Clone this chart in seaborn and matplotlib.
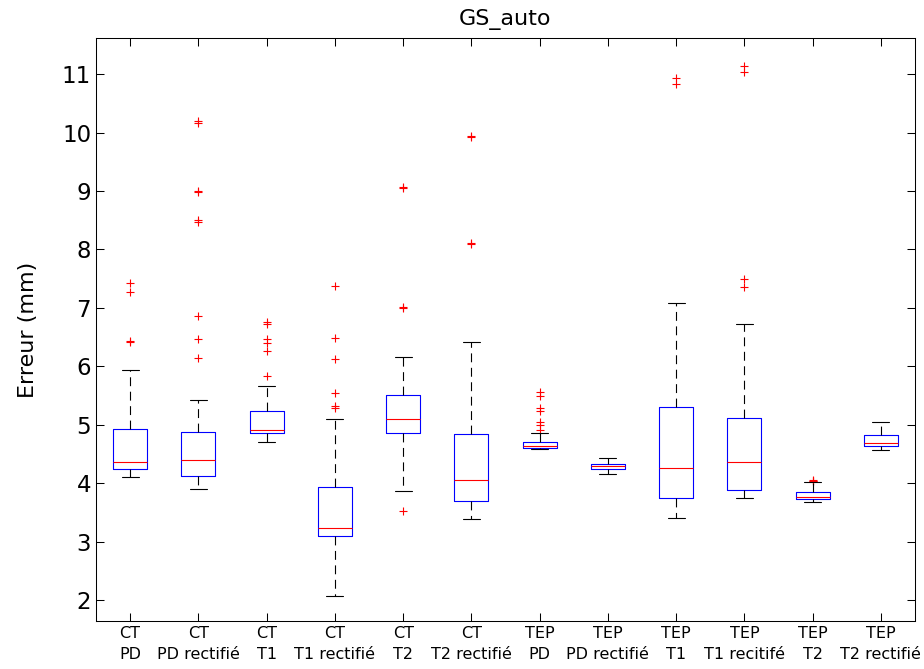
import numpy as np
import pandas as pd
import matplotlib
matplotlib.use("Agg")
import matplotlib.pyplot as plt
import seaborn as sns

# Box statistics (mm)
labels = ["CT\nPD", "CT\nPD rectifié", "CT\nT1", "CT\nT1 rectifié", "CT\nT2", "CT\nT2 rectifié",
          "TEP\nPD", "TEP\nPD rectifié", "TEP\nT1", "TEP\nT1 recitifé", "TEP\nT2", "TEP\nT2 rectifié"]
whislo = [4.10, 3.90, 4.70, 2.07, 3.87, 3.39, 4.59, 4.16, 3.40, 3.74, 3.68, 4.57]
q1 = [4.24, 4.13, 4.86, 3.09, 4.85, 3.69, 4.60, 4.24, 3.74, 3.88, 3.72, 4.64]
med = [4.36, 4.39, 4.91, 3.23, 5.10, 4.05, 4.63, 4.30, 4.26, 4.36, 3.77, 4.69]
q3 = [4.93, 4.87, 5.23, 3.93, 5.51, 4.84, 4.71, 4.33, 5.30, 5.11, 3.84, 4.82]
whishi = [5.94, 5.42, 5.66, 5.10, 6.16, 6.42, 4.86, 4.43, 7.08, 6.72, 4.02, 5.05]
fliers = [
    [7.43, 7.27, 6.44, 6.42],
    [10.20, 10.17, 9.00, 8.98, 8.50, 8.47, 6.86, 6.46, 6.14],
    [6.76, 6.73, 6.47, 6.40, 6.27, 5.83],
    [7.37, 6.49, 6.13, 5.54, 5.32, 5.29],
    [9.07, 9.05, 7.01, 6.99, 3.52],
    [9.95, 9.92, 8.11, 8.09],
    [5.56, 5.50, 5.29, 5.24, 5.04, 5.00, 4.91],
    [],
    [10.94, 10.84],
    [11.14, 11.04, 7.50, 7.35],
    [4.06, 4.04, 4.03],
    [],
]

sns.set_style("ticks", {"axes.edgecolor": "black", "text.color": "black",
                        "axes.labelcolor": "black", "xtick.color": "black",
                        "ytick.color": "black", "xtick.direction": "in",
                        "ytick.direction": "in"})
plt.rcParams['font.family'] = ['DejaVu Sans']

positions = np.arange(1, len(labels) + 1)
stats = [dict(label=labels[i], whislo=whislo[i], q1=q1[i], med=med[i], q3=q3[i],
              whishi=whishi[i], fliers=[]) for i in range(len(labels))]

fig = plt.figure(figsize=(9.24, 6.69), dpi=100)
ax = fig.add_axes([96 / 924, 1 - 621 / 669, (915 - 96) / 924, (621 - 38) / 669])

lw = 0.8
ax.bxp(stats, positions=positions, widths=0.5, capwidths=0.25, showfliers=False,
       boxprops=dict(color="blue", linewidth=lw),
       medianprops=dict(color="red", linewidth=lw),
       whiskerprops=dict(color="black", linewidth=lw, linestyle=(0, (8, 5))),
       capprops=dict(color="black", linewidth=lw))

# Outliers as red crosses
flier_df = pd.DataFrame({
    "pos": [positions[i] for i in range(len(fliers)) for _ in fliers[i]],
    "value": [v for f in fliers for v in f],
})
sns.scatterplot(data=flier_df, x="pos", y="value", marker="+", color="red",
                s=30, linewidth=0.8, ax=ax, legend=False)

ax.set_xlim(0.5, 12.5)
ax.set_ylim(1.64, 11.62)
ax.set_xticks(positions)
ax.set_xticklabels(labels, fontsize=11.5, linespacing=1.5)
ax.set_yticks(np.arange(2, 12, 1))
ax.tick_params(axis="y", labelsize=16.5)
ax.tick_params(direction="in", length=6, width=0.75, top=True, right=True)
for s in ax.spines.values():
    s.set_linewidth(0.75)

ax.set_xlabel("")
ax.set_ylabel("Erreur (mm)", fontsize=16, labelpad=17)
ax.set_title("GS_auto", fontsize=16, pad=9)

fig.savefig("out.png", dpi=100)
